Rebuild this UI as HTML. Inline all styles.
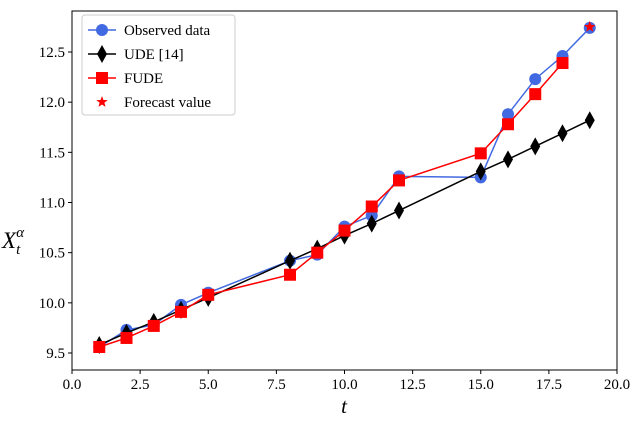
<!DOCTYPE html>
<html><head><meta charset="utf-8"><style>
body{margin:0;background:#fff;}
svg text{font-family:"Liberation Serif","DejaVu Serif",serif;}
</style></head><body>
<svg id="c" width="638" height="421" viewBox="0 0 638 421" xmlns="http://www.w3.org/2000/svg"></svg>
<script>
const tVals=[1,2,3,4,5,8,9,10,11,12,15,16,17,18,19];
const observed=[9.56,9.73,9.78,9.98,10.1,10.42,10.48,10.76,10.87,11.26,11.25,11.88,12.23,12.46,12.74];
const ude=[9.58,9.70,9.81,9.93,10.05,10.42,10.54,10.67,10.79,10.92,11.31,11.43,11.56,11.69,11.82];
const fudeT=[1,2,3,4,5,8,9,10,11,12,15,16,17,18];
const fude=[9.56,9.65,9.77,9.91,10.08,10.28,10.5,10.72,10.96,11.22,11.49,11.78,12.08,12.39];
const forecastT=[19];
const forecast=[12.75];
const xTicks=[0,2.5,5,7.5,10,12.5,15,17.5,20];
const yTicks=[9.5,10,10.5,11,11.5,12,12.5];
const L=72,R=617,T=11,B=370;
const X=v=>L+(v-0)/20*(R-L);
const Y=v=>353-(v-9.5)/3*(353-52);
const s=document.getElementById('c');const NS='http://www.w3.org/2000/svg';
function mk(tag,a,p){const e=document.createElementNS(NS,tag);for(const k in a)e.setAttribute(k,a[k]);(p||s).appendChild(e);return e;}
const fr=mk('rect',{x:L,y:T,width:R-L,height:B-T,fill:'none',stroke:'#000','stroke-width':1});


xTicks.forEach(v=>{const l=mk('line',{x1:X(v),x2:X(v),y1:B,y2:B+4,stroke:'#000'});


const t=mk('text',{x:X(v),y:B+19,'text-anchor':'middle','font-size':15});t.textContent=v.toFixed(1);

});
yTicks.forEach(v=>{const l=mk('line',{x1:L-4,x2:L,y1:Y(v),y2:Y(v),stroke:'#000'});


const t=mk('text',{x:L-7,y:Y(v)+5,'text-anchor':'end','font-size':15});t.textContent=v.toFixed(1);

});
const xl=mk('text',{x:344,y:413,'text-anchor':'middle','font-size':21,'font-style':'italic'});xl.textContent='t';


const yl=mk('text',{x:2,y:248,'font-size':23,'font-style':'italic'});yl.innerHTML='X<tspan font-size="15" dy="6">t</tspan><tspan font-size="15" dy="-17" dx="-4">α</tspan>';


function line(xs,ys,c,name){const p=mk('polyline',{points:xs.map((x,i)=>X(x)+','+Y(ys[i])).join(' '),fill:'none',stroke:c,'stroke-width':1.5});

}
function circ(x,y,p){return mk('circle',{cx:x,cy:y,r:6,fill:'#4169e1'},p);}
function dia(x,y,p){return mk('polygon',{points:`${x},${y-9} ${x+5},${y} ${x},${y+9} ${x-5},${y}`,fill:'#000'},p);}
function sq(x,y,p){return mk('rect',{x:x-6,y:y-6,width:12,height:12,fill:'#f00'},p);}
function star(x,y,p){let pts=[];for(let i=0;i<10;i++){const r=i%2?2.5:6,a=-Math.PI/2+i*Math.PI/5;pts.push((x+r*Math.cos(a))+','+(y+r*Math.sin(a)));}return mk('polygon',{points:pts.join(' '),fill:'#f00'},p);}
line(tVals,observed,'#4169e1','observed-line');
tVals.forEach((t,i)=>{const m=circ(X(t),Y(observed[i]));

});
line(tVals,ude,'#000','ude-line');
tVals.forEach((t,i)=>{const m=dia(X(t),Y(ude[i]));

});
line(fudeT,fude,'#f00','fude-line');
fudeT.forEach((t,i)=>{const m=sq(X(t),Y(fude[i]));

});
forecastT.forEach((t,i)=>{const m=star(X(t),Y(forecast[i]));

});
const lg=mk('g',{});


mk('rect',{x:82,y:15,width:153,height:100,rx:3,fill:'#fff',stroke:'#ccc'},lg);
const items=[['Observed data','#4169e1',circ],['UDE [14]','#000',dia],['FUDE','#f00',sq],['Forecast value',null,star]];
items.forEach((it,i)=>{const y=30+i*24;
if(it[1])mk('line',{x1:88,x2:116,y1:y,y2:y,stroke:it[1],'stroke-width':1.5},lg);
it[2](102,y,lg);
const t=mk('text',{x:124,y:y+5,'font-size':15},lg);t.textContent=it[0];

});
</script>
</body></html>
